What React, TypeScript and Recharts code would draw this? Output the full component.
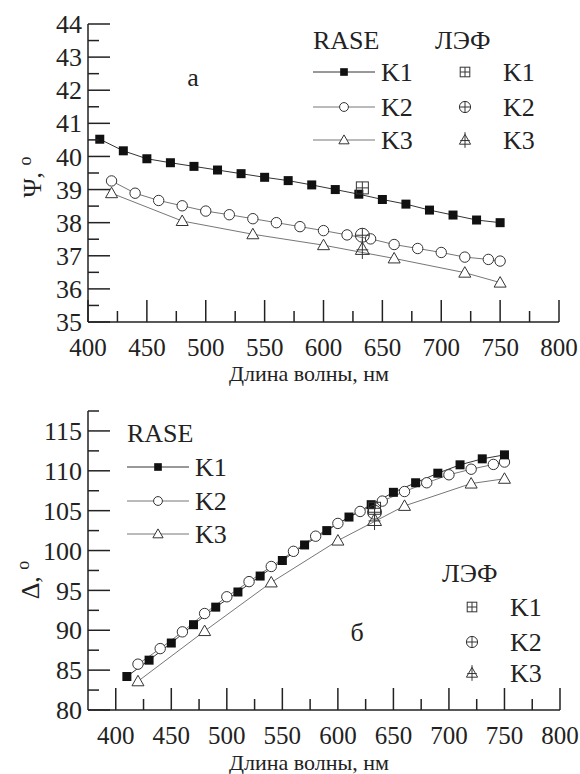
import React from 'react';
import { ComposedChart, Line, Scatter, XAxis, YAxis } from 'recharts';

const FONT = 'Liberation Serif, Times New Roman, serif';
const INK = '#222';

// RASE, Ψ (deg)
const psiK1Wl = [410, 430, 450, 470, 490, 510, 530, 550, 570, 590, 610, 630, 650, 670, 690, 710, 730, 750];
const psiK1 = [40.52, 40.17, 39.93, 39.81, 39.7, 39.59, 39.48, 39.37, 39.27, 39.14, 39.0, 38.86, 38.7, 38.56, 38.38, 38.23, 38.08, 38.0];
const psiK2Wl = [420, 440, 460, 480, 500, 520, 540, 560, 580, 600, 620, 640, 660, 680, 700, 720, 740, 750];
const psiK2 = [39.26, 38.89, 38.67, 38.51, 38.35, 38.24, 38.12, 38.0, 37.88, 37.76, 37.63, 37.51, 37.34, 37.22, 37.1, 36.96, 36.89, 36.84];
const psiK3Wl = [420, 480, 540, 600, 660, 720, 750];
const psiK3 = [38.89, 38.05, 37.65, 37.32, 36.92, 36.49, 36.19];

// RASE, Δ (deg)
const delK1 = [84.2, 86.25, 88.4, 90.7, 92.9, 94.8, 96.8, 98.75, 100.7, 102.5, 104.2, 105.75, 107.3, 108.5, 109.7, 110.75, 111.5, 112.0];
const delK2 = [85.75, 87.7, 89.8, 92.1, 94.2, 96.1, 98.0, 99.9, 101.8, 103.4, 104.9, 106.2, 107.4, 108.5, 109.5, 110.2, 110.8, 111.1];
const delK3 = [83.6, 89.9, 96.0, 101.25, 105.6, 108.4, 109.0];

// ЛЭФ (He-Ne laser)
const lefWl = 633;
const lefPsi = [39.05, 37.62, 37.2];
const lefDel = [105.3, 104.8, 103.8];

// axes
const wlMajor = [400, 450, 500, 550, 600, 650, 700, 750, 800];
const psiMajor = [35, 36, 37, 38, 39, 40, 41, 42, 43, 44];
const delMajor = [80, 85, 90, 95, 100, 105, 110, 115];
const wlTicks = [...wlMajor, ...wlMajor.slice(0, -1).map((v) => v + 25)].sort((a, b) => a - b);
const psiTicks = [...psiMajor, ...psiMajor.slice(0, -1).map((v) => v + 0.5)].sort((a, b) => a - b);
const delTicks = [...delMajor, ...delMajor.map((v) => v + 2.5)].sort((a, b) => a - b);

const rows = (xs: number[], ys: number[]) => xs.map((x, i) => ({ x, y: ys[i] }));

type Kind = 'square' | 'circle' | 'triangle' | 'squareX' | 'circleX' | 'triangleX';

const Marker = ({ kind, cx, cy, s = 1 }: { kind: Kind; cx: number; cy: number; s?: number }) => {
  const st = { stroke: '#333', strokeWidth: 1 };
  if (kind === 'square') {
    const h = 4.5 * s;
    return <rect x={cx - h} y={cy - h} width={2 * h} height={2 * h} fill="#111" />;
  }
  if (kind === 'circle') return <circle cx={cx} cy={cy} r={5.2 * s} fill="#fff" {...st} />;
  if (kind === 'triangle') {
    const a = 6 * s;
    return <polygon points={`${cx},${cy - a} ${cx - a},${cy + a * 0.75} ${cx + a},${cy + a * 0.75}`} fill="#fff" {...st} />;
  }
  if (kind === 'squareX') {
    const h = 6 * s;
    return (
      <g fill="none" {...st}>
        <rect x={cx - h} y={cy - h} width={2 * h} height={2 * h} />
        <line x1={cx - h} x2={cx + h} y1={cy} y2={cy} />
        <line x1={cx} x2={cx} y1={cy - h} y2={cy + h} />
      </g>
    );
  }
  if (kind === 'circleX') {
    const r = 7 * s;
    return (
      <g fill="none" {...st}>
        <circle cx={cx} cy={cy} r={r} />
        <line x1={cx - r} x2={cx + r} y1={cy} y2={cy} />
        <line x1={cx} x2={cx} y1={cy - r} y2={cy + r} />
      </g>
    );
  }
  const a = 7 * s;
  return (
    <g fill="none" {...st}>
      <polygon points={`${cx},${cy - a} ${cx - a},${cy + a * 0.75} ${cx + a},${cy + a * 0.75}`} />
      <line x1={cx} x2={cx} y1={cy - a * 1.4} y2={cy + a * 1.4} />
      <line x1={cx - a * 0.85} x2={cx + a * 0.85} y1={cy + a * 0.1} y2={cy + a * 0.1} />
    </g>
  );
};

const dotOf = (kind: Kind) => (p: any) => <Marker key={`d-${p.index}`} kind={kind} cx={p.cx} cy={p.cy} />;
const shapeOf = (kind: Kind) => (p: any) => <Marker kind={kind} cx={p.cx} cy={p.cy} />;

const XTick = (p: any) => {
  const v = p.payload.value;
  const major = wlMajor.includes(v);
  return (
    <g>
      <line x1={p.x} x2={p.x} y1={p.y} y2={p.y - (major ? 22 : 11)} stroke={INK} strokeWidth={1.5} />
      {major && (
        <text x={p.x} y={p.y + 25} dy="0.35em" textAnchor="middle" fontSize={25} fontFamily={FONT} fill={INK}>
          {v}
        </text>
      )}
    </g>
  );
};

const makeYTick = (majors: number[]) => (p: any) => {
  const v = p.payload.value;
  const major = majors.includes(v);
  return (
    <g>
      <line x1={p.x} x2={p.x + (major ? 22 : 11)} y1={p.y} y2={p.y} stroke={INK} strokeWidth={1.5} />
      {major && (
        <text x={p.x - 6} y={p.y} dy="0.35em" textAnchor="end" fontSize={26} fontFamily={FONT} fill={INK}>
          {v}
        </text>
      )}
    </g>
  );
};

const Frame = ({ xDomain, yDomain }: { xDomain: number[]; yDomain: number[] }) => (
  <>
    <XAxis xAxisId="top" orientation="top" type="number" domain={xDomain} height={0} tick={false} tickLine={false} axisLine={{ stroke: INK, strokeWidth: 1.5 }} />
    <YAxis yAxisId="right" orientation="right" type="number" domain={yDomain} width={0} tick={false} tickLine={false} axisLine={{ stroke: INK, strokeWidth: 1.5 }} />
  </>
);

const Panel = ({ xDomain, yDomain, yTicks, yMajor, k1, k2, k3, lef, margin }: any) => (
  <ComposedChart width={580} height={387} margin={margin}>
    <XAxis dataKey="x" type="number" domain={xDomain} allowDataOverflow ticks={wlTicks} interval={0} tickSize={0} tickMargin={0} tick={XTick} tickLine={false} height={60} axisLine={{ stroke: INK, strokeWidth: 1.5 }} />
    <YAxis dataKey="y" type="number" domain={yDomain} allowDataOverflow ticks={yTicks} interval={0} tickSize={0} tickMargin={0} tick={makeYTick(yMajor)} tickLine={false} width={60} axisLine={{ stroke: INK, strokeWidth: 1.5 }} />
    {Frame({ xDomain, yDomain })}
    <Line data={k3} dataKey="y" stroke="#777" strokeWidth={1} dot={dotOf('triangle')} isAnimationActive={false} />
    <Line data={k2} dataKey="y" stroke="#777" strokeWidth={1} dot={dotOf('circle')} isAnimationActive={false} />
    <Line data={k1} dataKey="y" stroke="#333" strokeWidth={1} dot={dotOf('square')} isAnimationActive={false} />
    <Scatter data={[lef[0]]} dataKey="y" shape={shapeOf('squareX')} isAnimationActive={false} />
    <Scatter data={[lef[1]]} dataKey="y" shape={shapeOf('circleX')} isAnimationActive={false} />
    <Scatter data={[lef[2]]} dataKey="y" shape={shapeOf('triangleX')} isAnimationActive={false} />
  </ComposedChart>
);

const T = ({ x, y, children, anchor = 'start', size = 26 }: any) => (
  <text x={x} y={y} dy="0.35em" textAnchor={anchor} fontSize={size} fontFamily={FONT} fill={INK}>
    {children}
  </text>
);

const names = ['K1', 'K2', 'K3'];
const raseKinds: Kind[] = ['square', 'circle', 'triangle'];
const lefKinds: Kind[] = ['squareX', 'circleX', 'triangleX'];

const RaseLegend = ({ x, y, rowsY }: { x: number; y: number; rowsY: number[] }) => (
  <g>
    <T x={x} y={y}>RASE</T>
    {rowsY.map((ry, i) => (
      <g key={i}>
        <line x1={x} x2={x + 62} y1={ry} y2={ry} stroke={i === 0 ? '#333' : '#777'} strokeWidth={1} />
        <Marker kind={raseKinds[i]} cx={x + 31} cy={ry} s={0.85} />
        <T x={x + 68} y={ry}>{names[i]}</T>
      </g>
    ))}
  </g>
);

const LefLegend = ({ x, y, mx, tx, rowsY }: { x: number; y: number; mx: number; tx: number; rowsY: number[] }) => (
  <g>
    <T x={x} y={y}>ЛЭФ</T>
    {rowsY.map((ry, i) => (
      <g key={i}>
        <Marker kind={lefKinds[i]} cx={mx} cy={ry} s={0.8} />
        <T x={tx} y={ry}>{names[i]}</T>
      </g>
    ))}
  </g>
);

export default function App() {
  const lefPsiRows = lefPsi.map((y) => ({ x: lefWl, y }));
  const lefDelRows = lefDel.map((y) => ({ x: lefWl, y }));
  return (
    <div style={{ position: 'absolute', left: 0, top: 0, width: 580, height: 774, background: '#fff' }}>
      <Panel
        xDomain={[400, 800]}
        yDomain={[35, 44]}
        yTicks={psiTicks}
        yMajor={psiMajor}
        k1={rows(psiK1Wl, psiK1)}
        k2={rows(psiK2Wl, psiK2)}
        k3={rows(psiK3Wl, psiK3)}
        lef={lefPsiRows}
        margin={{ top: 24, right: 21, bottom: 5, left: 28 }}
      />
      <Panel
        xDomain={[375, 800]}
        yDomain={[80, 117.5]}
        yTicks={delTicks}
        yMajor={delMajor}
        k1={rows(psiK1Wl, delK1)}
        k2={rows(psiK2Wl, delK2)}
        k3={rows(psiK3Wl, delK3)}
        lef={lefDelRows}
        margin={{ top: 24, right: 20, bottom: 4, left: 28 }}
      />
      <svg width={580} height={774} style={{ position: 'absolute', left: 0, top: 0, pointerEvents: 'none' }}>
        <RaseLegend x={313} y={40} rowsY={[72, 107, 140]} />
        <LefLegend x={435} y={40} mx={465} tx={503} rowsY={[72, 107, 140]} />
        <T x={193} y={77} anchor="middle">а</T>
        <T x={309} y={373} anchor="middle" size={22}>Длина волны, нм</T>
        <text transform="translate(32,177) rotate(-90)" textAnchor="middle" dy="0.35em" fontSize={26} fontFamily={FONT} fill={INK}>
          Ψ, <tspan dy={-10} fontSize={18}>o</tspan>
        </text>

        <RaseLegend x={127} y={433} rowsY={[467, 501, 534]} />
        <LefLegend x={442} y={573} mx={472} tx={510} rowsY={[607, 642, 673]} />
        <T x={357} y={632} anchor="middle">б</T>
        <T x={309} y={762} anchor="middle" size={22}>Длина волны, нм</T>
        <text transform="translate(30,580) rotate(-90)" textAnchor="middle" dy="0.35em" fontSize={26} fontFamily={FONT} fill={INK}>
          Δ, <tspan dy={-10} fontSize={18}>o</tspan>
        </text>
      </svg>
    </div>
  );
}
